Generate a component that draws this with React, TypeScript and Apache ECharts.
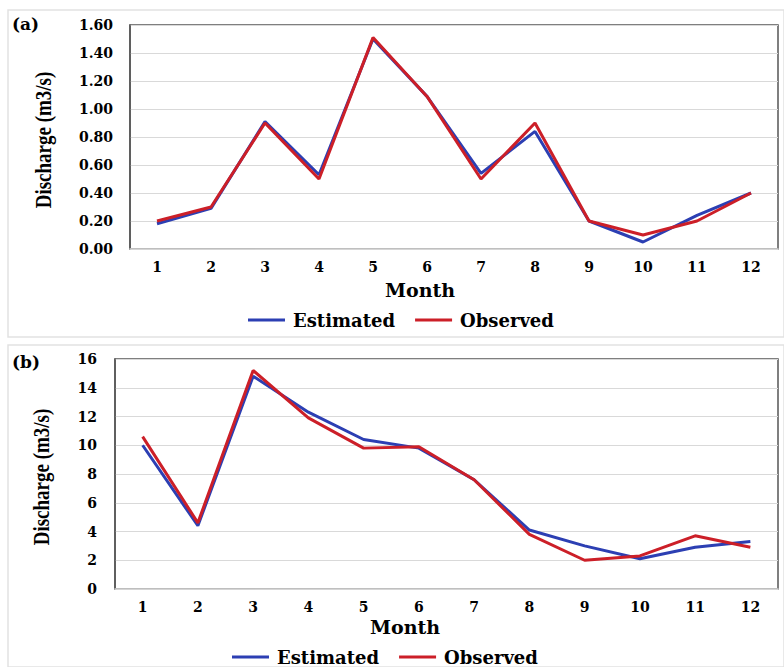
import React, { useEffect, useRef } from "react";
import * as echarts from "echarts";

const months = ["1", "2", "3", "4", "5", "6", "7", "8", "9", "10", "11", "12"];
const estimatedA = [0.18, 0.29, 0.91, 0.53, 1.5, 1.09, 0.54, 0.84, 0.2, 0.05, 0.24, 0.4];
const observedA = [0.2, 0.3, 0.9, 0.5, 1.51, 1.09, 0.5, 0.9, 0.2, 0.1, 0.2, 0.4];
const estimatedB = [10.0, 4.4, 14.8, 12.3, 10.4, 9.8, 7.6, 4.1, 3.0, 2.1, 2.9, 3.3];
const observedB = [10.6, 4.6, 15.2, 11.9, 9.8, 9.9, 7.6, 3.8, 2.0, 2.3, 3.7, 2.9];
const seriesNames = ["Estimated", "Observed"];
const panelLabels = ["(a)", "(b)"];
const yAxisTitle = "Discharge (m3/s)";
const xAxisTitle = "Month";

const BLUE = "#2c3fb3";
const RED = "#cc1f28";
const SERIF_WIDE = "'DejaVu Serif', serif";
const SERIF = "'Liberation Serif', 'Times New Roman', serif";

export default function App() {
  const ref = useRef<HTMLDivElement>(null);
  useEffect(() => {
    if (!ref.current) return;
    const chart = echarts.init(ref.current, undefined, { renderer: "svg" });
    const axisLabel = {
      color: "#000",
      fontFamily: SERIF_WIDE,
      fontWeight: "bold" as const,
      fontSize: 14,
    };
    const xAxisBase = {
      type: "category" as const,
      data: months,
      boundaryGap: true,
      axisTick: { show: false },
      axisLine: { show: true, lineStyle: { color: "#d4d4d4", width: 1.5 } },
      axisLabel: { ...axisLabel, margin: 11 },
    };
    const yAxisBase = {
      type: "value" as const,
      min: 0,
      axisTick: { show: false },
      axisLine: { show: true, lineStyle: { color: "#555", width: 1.5 } },
      splitLine: { show: true, lineStyle: { color: "#d9d9d9", width: 1 } },
    };
    const lineSeries = (name: string, data: number[], color: string, idx: number) => ({
      name,
      type: "line" as const,
      xAxisIndex: idx,
      yAxisIndex: idx,
      data,
      symbol: "none",
      showSymbol: false,
      lineStyle: { color, width: 3 },
      itemStyle: { color },
      z: name === "Observed" ? 3 : 2,
    });
    const legendBase = {
      data: seriesNames,
      orient: "horizontal" as const,
      icon: "rect",
      itemWidth: 37,
      itemHeight: 3,
      itemGap: 20,
      textStyle: {
        color: "#000",
        fontFamily: SERIF_WIDE,
        fontWeight: "bold" as const,
        fontSize: 18,
        padding: [0, 0, 0, 3],
      },
    };
    const titleText = (text: string, x: number, y: number) => ({
      type: "text",
      x,
      y,
      style: {
        text,
        fill: "#000",
        font: `bold 17px ${SERIF_WIDE}`,
        textAlign: "left",
        textVerticalAlign: "middle",
      },
    });
    const yTitle = (x: number, y: number) => ({
      type: "text",
      x,
      y,
      rotation: Math.PI / 2,
      scaleY: 1.25,
      style: {
        text: yAxisTitle,
        fill: "#000",
        font: `bold 19px ${SERIF}`,
        textAlign: "center",
        textVerticalAlign: "middle",
      },
    });
    const xTitle = (x: number, y: number) => ({
      type: "text",
      x,
      y,
      style: {
        text: xAxisTitle,
        fill: "#000",
        font: `bold 19px ${SERIF_WIDE}`,
        textAlign: "center",
        textVerticalAlign: "middle",
      },
    });
    chart.setOption({
      animation: false,
      backgroundColor: "#fff",
      grid: [
        { left: 130, top: 25, width: 648, height: 224, show: true, borderColor: "#555", borderWidth: 1.5, backgroundColor: "transparent" },
        { left: 115, top: 359, width: 663, height: 230, show: true, borderColor: "#555", borderWidth: 1.5, backgroundColor: "transparent" },
      ],
      xAxis: [
        { ...xAxisBase, gridIndex: 0 },
        { ...xAxisBase, gridIndex: 1 },
      ],
      yAxis: [
        {
          ...yAxisBase,
          gridIndex: 0,
          max: 1.6,
          interval: 0.2,
          axisLabel: { ...axisLabel, margin: 17, formatter: (v: number) => v.toFixed(2) },
        },
        {
          ...yAxisBase,
          gridIndex: 1,
          max: 16,
          interval: 2,
          axisLabel: { ...axisLabel, margin: 18 },
        },
      ],
      legend: [
        { ...legendBase, left: 243, top: 306 },
        { ...legendBase, left: 227, top: 643 },
      ],
      series: [
        lineSeries("Estimated", estimatedA, BLUE, 0),
        lineSeries("Observed", observedA, RED, 0),
        lineSeries("Estimated", estimatedB, BLUE, 1),
        lineSeries("Observed", observedB, RED, 1),
      ],
      graphic: [
        { type: "rect", shape: { x: 8, y: 10, width: 776, height: 327 }, style: { fill: "none", stroke: "#e2e2e2", lineWidth: 1.5 }, z: -1 },
        { type: "rect", shape: { x: 8, y: 345, width: 776, height: 322 }, style: { fill: "none", stroke: "#e2e2e2", lineWidth: 1.5 }, z: -1 },
        titleText(panelLabels[0], 12, 24),
        titleText(panelLabels[1], 12, 362),
        yTitle(43, 140),
        yTitle(41, 477),
        xTitle(420, 290),
        xTitle(405, 627),
      ],
    });
    return () => chart.dispose();
  }, []);
  return (
    <div
      ref={ref}
      style={{ position: "absolute", left: 0, top: 0, width: 784, height: 667 }}
    />
  );
}
